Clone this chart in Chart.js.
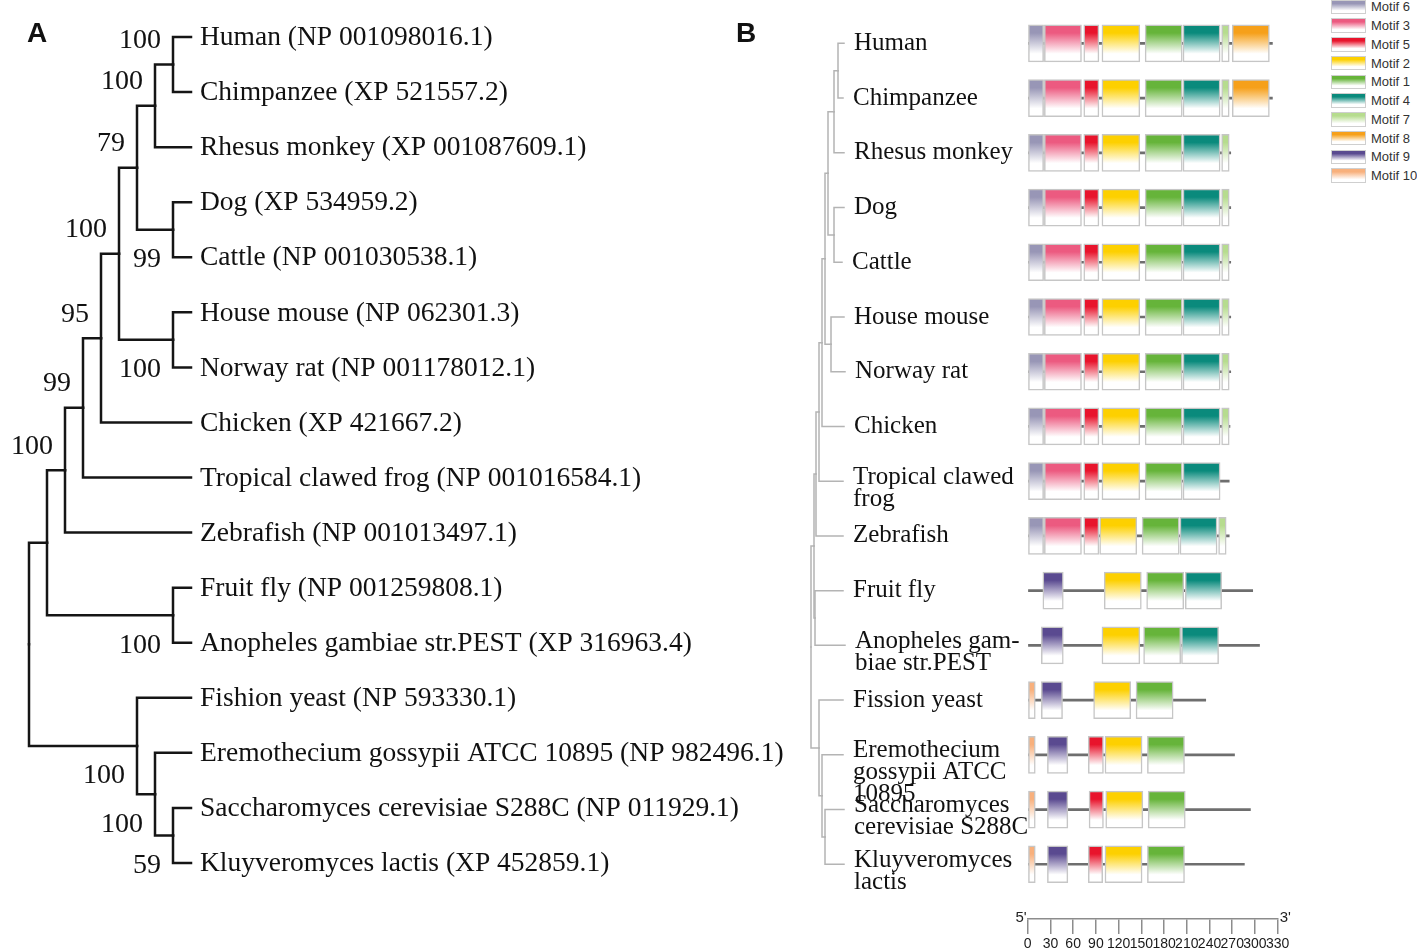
<!DOCTYPE html>
<html>
<head>
<meta charset="utf-8">
<script src="https://cdn.jsdelivr.net/npm/chart.js@4.4.1/dist/chart.umd.min.js"></script>
<style>
html, body { margin: 0; padding: 0; background: #fff; overflow: hidden; width: 1417px; height: 950px; }
canvas { position: absolute; top: 0; }
#legend { position: absolute; left: 1331px; top: -2.4px; font: 13px Arial, "Liberation Sans", sans-serif; color: #333; }
.lrow { height: 18.75px; display: flex; align-items: center; white-space: nowrap; }
.sw { display: inline-block; width: 33px; height: 12.5px; border: 1px solid #cfcfcf; margin-right: 5px; }
</style>
</head>
<body>
<canvas id="treeA" width="790" height="950" style="left:0;width:790px;height:950px"></canvas>
<canvas id="treeB" width="300" height="950" style="left:730px;width:300px;height:950px"></canvas>
<canvas id="motifs" width="300" height="950" style="left:1000px;width:300px;height:950px"></canvas>
<div id="legend"></div>
<script>
// leaf names, same order for both panels
var speciesA = [
  'Human (NP 001098016.1)', 'Chimpanzee (XP 521557.2)', 'Rhesus monkey (XP 001087609.1)',
  'Dog (XP 534959.2)', 'Cattle (NP 001030538.1)', 'House mouse (NP 062301.3)',
  'Norway rat (NP 001178012.1)', 'Chicken (XP 421667.2)', 'Tropical clawed frog (NP 001016584.1)',
  'Zebrafish (NP 001013497.1)', 'Fruit fly (NP 001259808.1)', 'Anopheles gambiae str.PEST (XP 316963.4)',
  'Fishion yeast (NP 593330.1)', 'Eremothecium gossypii ATCC 10895 (NP 982496.1)',
  'Saccharomyces cerevisiae S288C (NP 011929.1)', 'Kluyveromyces lactis (XP 452859.1)'
]
var speciesB = [
  'Human', 'Chimpanzee', 'Rhesus monkey', 'Dog', 'Cattle', 'House mouse', 'Norway rat', 'Chicken',
  'Tropical clawed\nfrog', 'Zebrafish', 'Fruit fly', 'Anopheles gam-\nbiae str.PEST', 'Fission yeast',
  'Eremothecium\ngossypii ATCC\n10895', 'Saccharomyces\ncerevisiae S288C', 'Kluyveromyces\nlactis'
]

// trees (leaf = index in the lists above), A with bootstrap values, B with branch lengths
var treeA = '(((((((((0,1)100,2)100,(3,4)99)79,(5,6)100)100,7)95,8)99,9)100,(10,11)100),(12,(13,(14,15)59)100)100);'
var treeB = '(((((((((0:6,1:5):4,2:10):6,(3:10,4:8):6):3,(5:13,6:14):6):3,7:22):3,8:24):3,9:27):2,(10:28,11:30):1):3,(12:24,(13:21,(14:19,15:19):3):3):8);'

// protein length (aa) per species
var protLen = [323, 323, 268, 268, 268, 268, 268, 267, 266, 266, 297, 306, 235, 273, 294, 286]

var motifNames = ['Motif 6', 'Motif 3', 'Motif 5', 'Motif 2', 'Motif 1', 'Motif 4', 'Motif 7', 'Motif 8', 'Motif 9', 'Motif 10']
var motifColors = ['#9896b6', '#ec5a80', '#e8142c', '#fdd000', '#66b43a', '#0a8a7c', '#b6dc8e', '#f6a01a', '#5a4a90', '#f8b07c']

var _ = null
// motif positions [start, end] per species
var motif6  = [[0,21],[0,21],[0,21],[0,21],[0,21],[0,21],[0,21],[0,21],[0,21],[0,21],_,_,_,_,_,_]
var motif3  = [[22,71],[22,71],[22,71],[22,71],[22,71],[22,71],[22,71],[22,71],[22,71],[22,71],_,_,_,_,_,_]
var motif5  = [[74,94],[74,94],[74,94],[74,94],[74,94],[74,94],[74,94],[74,94],[74,94],[74,94],_,_,_,[80,100],[81,100],[80,99]]
var motif2  = [[98,148],[98,148],[98,148],[98,148],[98,148],[98,148],[98,148],[98,148],[98,148],[95,144],[101,150],[98,148],[87,136],[102,151],[103,152],[102,151]]
var motif1  = [[155,204],[155,204],[155,204],[155,204],[155,204],[155,204],[155,204],[155,204],[155,204],[151,200],[157,206],[153,202],[143,192],[158,207],[159,208],[158,207]]
var motif4  = [[205,254],[205,254],[205,254],[205,254],[205,254],[205,254],[205,254],[205,254],[205,254],[201,250],[208,256],[203,252],_,_,_,_]
var motif7  = [[256,266],[256,266],[256,266],[256,266],[256,266],[256,266],[256,266],[256,266],_,[252,262],_,_,_,_,_,_]
var motif8  = [[270,319],[270,319],_,_,_,_,_,_,_,_,_,_,_,_,_,_]
var motif9  = [_,_,_,_,_,_,_,_,_,_,[20,47],[18,47],[18,46],[26,53],[26,53],[26,53]]
var motif10 = [_,_,_,_,_,_,_,_,_,_,_,_,[0,10],[0,10],[0,10],[0,10]]

var motifRows = [motif6, motif3, motif5, motif2, motif1, motif4, motif7, motif8, motif9, motif10]

var serif = '"Liberation Serif", "Times New Roman", serif'

// small newick reader
function parseNewick(s) {
    var i = 0
    function node() {
        var n = {children: []}
        if (s[i] == '(') {
            i++
            n.children.push(node())
            while (s[i] == ',') { i++; n.children.push(node()) }
            i++
        }
        var name = ''
        while (i < s.length && ',():;'.indexOf(s[i]) < 0) name += s[i++]
        if (s[i] == ':') {
            i++
            var len = ''
            while (i < s.length && ',();'.indexOf(s[i]) < 0) len += s[i++]
            n.len = parseFloat(len)
        }
        if (n.children.length) { if (name) n.support = name }
        else n.leaf = parseInt(name)
        return n
    }
    return node()
}

// y = leaf index (inner node: middle of first and last child), h = levels above tips, d = distance from root
function layout(n, d, list) {
    n.d = d
    list.push(n)
    if (!n.children.length) { n.y = n.leaf; n.h = 0; return }
    n.children.forEach(function (c, k) {
        c.first = (k == 0)
        layout(c, d + (c.len || 0), list)
    })
    n.y = (n.children[0].y + n.children[n.children.length - 1].y) / 2
    n.h = 1 + Math.max.apply(null, n.children.map(function (c) { return c.h }))
}

function edgeSets(list, getX, color, width) {
    var sets = []
    list.forEach(function (n) {
        n.children.forEach(function (c) {
            sets.push({
                data: [{x: getX(n), y: n.y}, {x: getX(n), y: c.y}, {x: getX(c), y: c.y}],
                showLine: true, borderColor: color, borderWidth: width, pointRadius: 0,
                tension: 0, clip: false, borderJoinStyle: 'miter', borderCapStyle: 'square'
            })
        })
    })
    return sets
}

var nodesA = []
layout(parseNewick(treeA), 0, nodesA)
var nodesB = []
layout(parseNewick(treeB), 0, nodesB)

// panel A: cladogram
var labelsA = {
    id: 'labelsA',
    afterDatasetsDraw: function (chart) {
        var ctx = chart.ctx, x = chart.scales.x, y = chart.scales.y
        ctx.save()
        ctx.fillStyle = '#111'
        ctx.textBaseline = 'middle'
        ctx.textAlign = 'left'
        ctx.font = '27.5px ' + serif
        nodesA.forEach(function (n) {
            if (n.leaf === undefined) return
            ctx.fillText(speciesA[n.leaf], x.getPixelForValue(0) + 9, y.getPixelForValue(n.y) + 1)
        })
        ctx.font = '28px ' + serif
        ctx.textAlign = 'right'
        nodesA.forEach(function (n) {
            if (!n.support) return
            ctx.fillText(n.support, x.getPixelForValue(-n.h) - 12, y.getPixelForValue(n.y) + (n.first ? -24 : 30))
        })
        ctx.font = 'bold 28px Arial, "Liberation Sans", sans-serif'
        ctx.textAlign = 'center'
        ctx.fillText('A', 37, 34)
        ctx.restore()
    }
}

new Chart(document.getElementById('treeA'), {
    type: 'scatter',
    data: { datasets: edgeSets(nodesA, function (n) { return -n.h }, '#151515', 2.5) },
    options: {
        responsive: false, animation: false, events: [],
        layout: { padding: {left: 29, right: 599, top: 37, bottom: 87} },
        plugins: { legend: {display: false}, tooltip: {enabled: false} },
        scales: {
            x: { type: 'linear', display: false, min: -9, max: 0 },
            y: { type: 'linear', display: false, min: 0, max: 15, reverse: true }
        }
    },
    plugins: [labelsA]
})

// panel B: small phylogram with names
var labelsB = {
    id: 'labelsB',
    afterDatasetsDraw: function (chart) {
        var ctx = chart.ctx, x = chart.scales.x, y = chart.scales.y
        ctx.save()
        ctx.fillStyle = '#111'
        ctx.textBaseline = 'middle'
        ctx.textAlign = 'left'
        ctx.font = '25px ' + serif
        nodesB.forEach(function (n) {
            if (n.leaf === undefined) return
            var lines = speciesB[n.leaf].split('\n')
            var py = y.getPixelForValue(n.y) - (lines.length > 1 ? 4 : 0)
            lines.forEach(function (t, k) {
                ctx.fillText(t, x.getPixelForValue(n.d) + 10, py + k * 22)
            })
        })
        ctx.font = 'bold 28px Arial, "Liberation Sans", sans-serif'
        ctx.textAlign = 'center'
        ctx.fillText('B', 16, 34)
        ctx.restore()
    }
}

new Chart(document.getElementById('treeB'), {
    type: 'scatter',
    data: { datasets: edgeSets(nodesB, function (n) { return n.d }, '#b4b4b4', 1.5) },
    options: {
        responsive: false, animation: false, events: [],
        layout: { padding: {left: 81, right: 179, top: 16, bottom: 31} },
        plugins: { legend: {display: false}, tooltip: {enabled: false} },
        scales: {
            x: { type: 'linear', display: false, min: 0, max: 40 },
            y: { type: 'linear', display: false, min: -0.5, max: 16, reverse: true }
        }
    },
    plugins: [labelsB]
})

// motif boxes: colour on top fading to white
function boxFill(color) {
    return function (c) {
        var chart = c.chart
        if (!chart.chartArea || !c.raw) return color
        var yc = chart.scales.y.getPixelForValue(c.raw.y)
        var g = chart.ctx.createLinearGradient(0, yc - 18.5, 0, yc + 18.5)
        g.addColorStop(0, color)
        g.addColorStop(0.22, color)
        g.addColorStop(0.78, '#ffffff')
        g.addColorStop(1, '#ffffff')
        return g
    }
}

var motifSets = motifRows.map(function (rows, k) {
    return {
        label: motifNames[k],
        data: rows.map(function (r, i) { return r ? {x: r, y: i} : null }).filter(Boolean),
        backgroundColor: boxFill(motifColors[k]),
        borderColor: '#c6c6c6', borderWidth: 1.5, borderSkipped: false,
        barThickness: 37, grouped: false, order: 0
    }
})
motifSets.push({
    label: 'protein',
    data: protLen.map(function (L, i) { return {x: [0, L], y: i} }),
    backgroundColor: '#6e6e6e', borderWidth: 0,
    barThickness: 2, grouped: false, order: 1
})

var primeEnds = {
    id: 'primeEnds',
    afterDraw: function (chart) {
        var ctx = chart.ctx, x = chart.scales.x, b = chart.chartArea.bottom
        ctx.save()
        ctx.fillStyle = '#222'
        ctx.font = '15px Arial, "Liberation Sans", sans-serif'
        ctx.textBaseline = 'alphabetic'
        ctx.textAlign = 'right'
        ctx.fillText("5'", x.getPixelForValue(0) - 1, b + 3)
        ctx.textAlign = 'left'
        ctx.fillText("3'", x.getPixelForValue(330) + 2, b + 3)
        ctx.restore()
    }
}

new Chart(document.getElementById('motifs'), {
    type: 'bar',
    data: { datasets: motifSets },
    options: {
        indexAxis: 'y',
        responsive: false, animation: false, events: [],
        layout: { padding: {left: 27.7, right: 22.3, top: 16, bottom: 0} },
        plugins: { legend: {display: false}, tooltip: {enabled: false} },
        scales: {
            x: {
                type: 'linear', position: 'bottom', min: 0, max: 330,
                ticks: { stepSize: 30, autoSkip: false, maxRotation: 0, minRotation: 0, padding: 2,
                         color: '#1a1a1a', font: {size: 14, family: 'Arial, "Liberation Sans", sans-serif'} },
                grid: { drawOnChartArea: false, drawTicks: true, tickLength: 15, color: '#8c8c8c', lineWidth: 1.5 },
                border: { display: true, color: '#8c8c8c', width: 1.5 },
                afterFit: function (s) { s.height = 31 }
            },
            y: { type: 'linear', display: false, offset: false, grid: {offset: false},
                 min: -0.5, max: 16, reverse: true }
        }
    },
    plugins: [primeEnds]
})

// legend as html
var leg = document.getElementById('legend')
motifNames.forEach(function (nm, k) {
    var row = document.createElement('div')
    row.className = 'lrow'
    var sw = document.createElement('span')
    sw.className = 'sw'
    sw.style.background = 'linear-gradient(to bottom, ' + motifColors[k] + ' 0%, ' + motifColors[k] + ' 22%, #fff 80%)'
    row.appendChild(sw)
    row.appendChild(document.createTextNode(nm))
    leg.appendChild(row)
})
</script>
</body>
</html>
